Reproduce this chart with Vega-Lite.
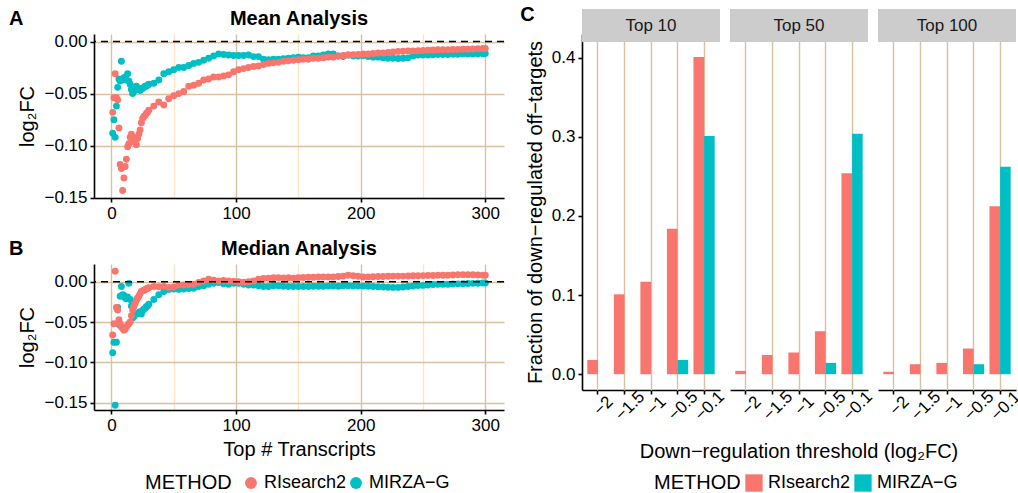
{
 "$schema": "https://vega.github.io/schema/vega-lite/v6.json",
 "padding": {"left": 8, "top": 5, "right": 0, "bottom": 0},
 "background": "white",
 "config": {
  "font": "Liberation Sans",
  "view": {"stroke": null},
  "axis": {"domainColor": "black", "domainWidth": 1.6, "tickColor": "black", "tickWidth": 1.6, "tickSize": 4, "labelFontSize": 17, "labelColor": "black", "titleFontSize": 20, "titleFontWeight": "normal", "titleColor": "black", "gridColor": "#D8C0A0", "gridWidth": 1.4, "labelPadding": 3, "titlePadding": 6},
  "title": {"fontSize": 20, "fontWeight": "bold", "color": "black"},
  "legend": {"titleFontSize": 20, "titleFontWeight": "normal", "titleColor": "black", "labelFontSize": 18, "labelColor": "black"}
 },
 "datasets": {
  "scatter": [
   {"n":1,"METHOD":"MIRZA−G","mean":-0.088,"median":-0.088},{"n":2,"METHOD":"MIRZA−G","mean":-0.075,"median":-0.075},{"n":3,"METHOD":"MIRZA−G","mean":-0.092,"median":-0.153},{"n":4,"METHOD":"MIRZA−G","mean":-0.062,"median":-0.075},{"n":5,"METHOD":"MIRZA−G","mean":-0.044,"median":-0.032},{"n":6,"METHOD":"MIRZA−G","mean":-0.036,"median":-0.053},{"n":7,"METHOD":"MIRZA−G","mean":-0.038,"median":-0.018},{"n":8,"METHOD":"MIRZA−G","mean":-0.019,"median":-0.006},{"n":9,"METHOD":"MIRZA−G","mean":-0.037,"median":-0.016},{"n":10,"METHOD":"MIRZA−G","mean":-0.035,"median":-0.017},
   {"n":11,"METHOD":"MIRZA−G","mean":-0.034,"median":-0.020},{"n":12,"METHOD":"MIRZA−G","mean":-0.037,"median":-0.021},{"n":13,"METHOD":"MIRZA−G","mean":-0.031,"median":-0.019},{"n":14,"METHOD":"MIRZA−G","mean":-0.038,"median":-0.002},{"n":15,"METHOD":"MIRZA−G","mean":-0.041,"median":-0.022},{"n":16,"METHOD":"MIRZA−G","mean":-0.046,"median":-0.030},{"n":17,"METHOD":"MIRZA−G","mean":-0.050,"median":-0.045},{"n":18,"METHOD":"MIRZA−G","mean":-0.048,"median":-0.043},{"n":19,"METHOD":"MIRZA−G","mean":-0.044,"median":-0.041},{"n":20,"METHOD":"MIRZA−G","mean":-0.043,"median":-0.040},
   {"n":21,"METHOD":"MIRZA−G","mean":-0.045,"median":-0.039},{"n":22,"METHOD":"MIRZA−G","mean":-0.046,"median":-0.038},{"n":23,"METHOD":"MIRZA−G","mean":-0.047,"median":-0.037},{"n":24,"METHOD":"MIRZA−G","mean":-0.045,"median":-0.040},{"n":25,"METHOD":"MIRZA−G","mean":-0.045,"median":-0.036},{"n":26,"METHOD":"MIRZA−G","mean":-0.044,"median":-0.034},{"n":27,"METHOD":"MIRZA−G","mean":-0.043,"median":-0.033},{"n":28,"METHOD":"MIRZA−G","mean":-0.043,"median":-0.031},{"n":29,"METHOD":"MIRZA−G","mean":-0.042,"median":-0.030},{"n":30,"METHOD":"MIRZA−G","mean":-0.041,"median":-0.028},
   {"n":34,"METHOD":"MIRZA−G","mean":-0.040,"median":-0.022},{"n":38,"METHOD":"MIRZA−G","mean":-0.037,"median":-0.016},{"n":42,"METHOD":"MIRZA−G","mean":-0.031,"median":-0.012},{"n":46,"METHOD":"MIRZA−G","mean":-0.029,"median":-0.0095},{"n":50,"METHOD":"MIRZA−G","mean":-0.027,"median":-0.009},{"n":54,"METHOD":"MIRZA−G","mean":-0.025,"median":-0.0095},{"n":58,"METHOD":"MIRZA−G","mean":-0.025,"median":-0.009},{"n":62,"METHOD":"MIRZA−G","mean":-0.023,"median":-0.0085},{"n":66,"METHOD":"MIRZA−G","mean":-0.021,"median":-0.008},{"n":70,"METHOD":"MIRZA−G","mean":-0.020,"median":-0.006},
   {"n":74,"METHOD":"MIRZA−G","mean":-0.018,"median":-0.005},{"n":78,"METHOD":"MIRZA−G","mean":-0.016,"median":-0.003},{"n":82,"METHOD":"MIRZA−G","mean":-0.014,"median":-0.002},{"n":86,"METHOD":"MIRZA−G","mean":-0.012,"median":-0.001},{"n":90,"METHOD":"MIRZA−G","mean":-0.0125,"median":-0.0025},{"n":94,"METHOD":"MIRZA−G","mean":-0.013,"median":-0.003},{"n":98,"METHOD":"MIRZA−G","mean":-0.0135,"median":-0.002},{"n":102,"METHOD":"MIRZA−G","mean":-0.0135,"median":-0.002},{"n":106,"METHOD":"MIRZA−G","mean":-0.0135,"median":-0.003},{"n":110,"METHOD":"MIRZA−G","mean":-0.013,"median":-0.004},
   {"n":114,"METHOD":"MIRZA−G","mean":-0.0145,"median":-0.004},{"n":118,"METHOD":"MIRZA−G","mean":-0.0145,"median":-0.005},{"n":122,"METHOD":"MIRZA−G","mean":-0.017,"median":-0.006},{"n":126,"METHOD":"MIRZA−G","mean":-0.0175,"median":-0.006},{"n":130,"METHOD":"MIRZA−G","mean":-0.017,"median":-0.005},{"n":134,"METHOD":"MIRZA−G","mean":-0.017,"median":-0.005},{"n":138,"METHOD":"MIRZA−G","mean":-0.0165,"median":-0.0055},{"n":142,"METHOD":"MIRZA−G","mean":-0.016,"median":-0.006},{"n":146,"METHOD":"MIRZA−G","mean":-0.0155,"median":-0.006},{"n":150,"METHOD":"MIRZA−G","mean":-0.015,"median":-0.006},
   {"n":154,"METHOD":"MIRZA−G","mean":-0.0155,"median":-0.006},{"n":158,"METHOD":"MIRZA−G","mean":-0.0155,"median":-0.0058},{"n":162,"METHOD":"MIRZA−G","mean":-0.014,"median":-0.0056},{"n":166,"METHOD":"MIRZA−G","mean":-0.014,"median":-0.0055},{"n":170,"METHOD":"MIRZA−G","mean":-0.013,"median":-0.0055},{"n":174,"METHOD":"MIRZA−G","mean":-0.012,"median":-0.0054},{"n":178,"METHOD":"MIRZA−G","mean":-0.012,"median":-0.0054},{"n":182,"METHOD":"MIRZA−G","mean":-0.014,"median":-0.0055},{"n":186,"METHOD":"MIRZA−G","mean":-0.0145,"median":-0.005},{"n":190,"METHOD":"MIRZA−G","mean":-0.013,"median":-0.005},
   {"n":194,"METHOD":"MIRZA−G","mean":-0.014,"median":-0.0052},{"n":198,"METHOD":"MIRZA−G","mean":-0.014,"median":-0.0054},{"n":202,"METHOD":"MIRZA−G","mean":-0.0135,"median":-0.0054},{"n":206,"METHOD":"MIRZA−G","mean":-0.0145,"median":-0.0056},{"n":210,"METHOD":"MIRZA−G","mean":-0.015,"median":-0.006},{"n":214,"METHOD":"MIRZA−G","mean":-0.015,"median":-0.0063},{"n":218,"METHOD":"MIRZA−G","mean":-0.0155,"median":-0.0066},{"n":222,"METHOD":"MIRZA−G","mean":-0.016,"median":-0.0068},{"n":226,"METHOD":"MIRZA−G","mean":-0.016,"median":-0.007},{"n":230,"METHOD":"MIRZA−G","mean":-0.0163,"median":-0.007},
   {"n":234,"METHOD":"MIRZA−G","mean":-0.016,"median":-0.0065},{"n":238,"METHOD":"MIRZA−G","mean":-0.0157,"median":-0.006},{"n":242,"METHOD":"MIRZA−G","mean":-0.014,"median":-0.0052},{"n":246,"METHOD":"MIRZA−G","mean":-0.013,"median":-0.0048},{"n":250,"METHOD":"MIRZA−G","mean":-0.013,"median":-0.0045},{"n":254,"METHOD":"MIRZA−G","mean":-0.013,"median":-0.004},{"n":258,"METHOD":"MIRZA−G","mean":-0.0128,"median":-0.0035},{"n":262,"METHOD":"MIRZA−G","mean":-0.0125,"median":-0.003},{"n":266,"METHOD":"MIRZA−G","mean":-0.0125,"median":-0.003},{"n":270,"METHOD":"MIRZA−G","mean":-0.0125,"median":-0.003},
   {"n":274,"METHOD":"MIRZA−G","mean":-0.0122,"median":-0.0028},{"n":278,"METHOD":"MIRZA−G","mean":-0.0122,"median":-0.0026},{"n":282,"METHOD":"MIRZA−G","mean":-0.012,"median":-0.0024},{"n":286,"METHOD":"MIRZA−G","mean":-0.012,"median":-0.0022},{"n":290,"METHOD":"MIRZA−G","mean":-0.012,"median":-0.002},{"n":294,"METHOD":"MIRZA−G","mean":-0.0118,"median":-0.0018},{"n":298,"METHOD":"MIRZA−G","mean":-0.0118,"median":-0.0016},{"n":300,"METHOD":"MIRZA−G","mean":-0.0115,"median":-0.0015},
   {"n":1,"METHOD":"RIsearch2","mean":-0.068,"median":-0.066},{"n":2,"METHOD":"RIsearch2","mean":-0.054,"median":-0.052},{"n":3,"METHOD":"RIsearch2","mean":-0.031,"median":0.013},{"n":4,"METHOD":"RIsearch2","mean":-0.054,"median":-0.032},{"n":5,"METHOD":"RIsearch2","mean":-0.056,"median":-0.035},{"n":6,"METHOD":"RIsearch2","mean":-0.083,"median":-0.047},{"n":7,"METHOD":"RIsearch2","mean":-0.118,"median":-0.052},{"n":8,"METHOD":"RIsearch2","mean":-0.122,"median":-0.056},{"n":9,"METHOD":"RIsearch2","mean":-0.143,"median":-0.058},{"n":10,"METHOD":"RIsearch2","mean":-0.131,"median":-0.060},
   {"n":11,"METHOD":"RIsearch2","mean":-0.120,"median":-0.059},{"n":12,"METHOD":"RIsearch2","mean":-0.113,"median":-0.056},{"n":13,"METHOD":"RIsearch2","mean":-0.101,"median":-0.054},{"n":14,"METHOD":"RIsearch2","mean":-0.098,"median":-0.052},{"n":15,"METHOD":"RIsearch2","mean":-0.092,"median":-0.050},{"n":16,"METHOD":"RIsearch2","mean":-0.089,"median":-0.042},{"n":17,"METHOD":"RIsearch2","mean":-0.096,"median":-0.035},{"n":18,"METHOD":"RIsearch2","mean":-0.092,"median":-0.031},{"n":19,"METHOD":"RIsearch2","mean":-0.097,"median":-0.027},{"n":20,"METHOD":"RIsearch2","mean":-0.099,"median":-0.023},
   {"n":21,"METHOD":"RIsearch2","mean":-0.093,"median":-0.020},{"n":22,"METHOD":"RIsearch2","mean":-0.089,"median":-0.018},{"n":23,"METHOD":"RIsearch2","mean":-0.085,"median":-0.015},{"n":24,"METHOD":"RIsearch2","mean":-0.078,"median":-0.012},{"n":25,"METHOD":"RIsearch2","mean":-0.074,"median":-0.011},{"n":26,"METHOD":"RIsearch2","mean":-0.072,"median":-0.011},{"n":27,"METHOD":"RIsearch2","mean":-0.071,"median":-0.010},{"n":28,"METHOD":"RIsearch2","mean":-0.069,"median":-0.009},{"n":29,"METHOD":"RIsearch2","mean":-0.068,"median":-0.008},{"n":30,"METHOD":"RIsearch2","mean":-0.066,"median":-0.0075},
   {"n":34,"METHOD":"RIsearch2","mean":-0.062,"median":-0.006},{"n":38,"METHOD":"RIsearch2","mean":-0.058,"median":-0.0062},{"n":42,"METHOD":"RIsearch2","mean":-0.061,"median":-0.006},{"n":46,"METHOD":"RIsearch2","mean":-0.055,"median":-0.007},{"n":50,"METHOD":"RIsearch2","mean":-0.052,"median":-0.0065},{"n":54,"METHOD":"RIsearch2","mean":-0.050,"median":-0.004},{"n":58,"METHOD":"RIsearch2","mean":-0.048,"median":-0.004},{"n":62,"METHOD":"RIsearch2","mean":-0.043,"median":-0.0035},{"n":66,"METHOD":"RIsearch2","mean":-0.042,"median":-0.003},{"n":70,"METHOD":"RIsearch2","mean":-0.040,"median":-0.001},
   {"n":74,"METHOD":"RIsearch2","mean":-0.037,"median":0.001},{"n":78,"METHOD":"RIsearch2","mean":-0.036,"median":0.003},{"n":82,"METHOD":"RIsearch2","mean":-0.034,"median":0.002},{"n":86,"METHOD":"RIsearch2","mean":-0.034,"median":0.001},{"n":90,"METHOD":"RIsearch2","mean":-0.033,"median":0.0015},{"n":94,"METHOD":"RIsearch2","mean":-0.032,"median":0.001},{"n":98,"METHOD":"RIsearch2","mean":-0.029,"median":0.0005},{"n":102,"METHOD":"RIsearch2","mean":-0.027,"median":0.0},{"n":106,"METHOD":"RIsearch2","mean":-0.026,"median":-0.0005},{"n":110,"METHOD":"RIsearch2","mean":-0.025,"median":0.0},
   {"n":114,"METHOD":"RIsearch2","mean":-0.024,"median":0.001},{"n":118,"METHOD":"RIsearch2","mean":-0.0235,"median":0.003},{"n":122,"METHOD":"RIsearch2","mean":-0.022,"median":0.004},{"n":126,"METHOD":"RIsearch2","mean":-0.021,"median":0.0045},{"n":130,"METHOD":"RIsearch2","mean":-0.0205,"median":0.005},{"n":134,"METHOD":"RIsearch2","mean":-0.020,"median":0.005},{"n":138,"METHOD":"RIsearch2","mean":-0.019,"median":0.0048},{"n":142,"METHOD":"RIsearch2","mean":-0.0185,"median":0.005},{"n":146,"METHOD":"RIsearch2","mean":-0.018,"median":0.0045},{"n":150,"METHOD":"RIsearch2","mean":-0.0175,"median":0.005},
   {"n":154,"METHOD":"RIsearch2","mean":-0.017,"median":0.0052},{"n":158,"METHOD":"RIsearch2","mean":-0.017,"median":0.0055},{"n":162,"METHOD":"RIsearch2","mean":-0.016,"median":0.0055},{"n":166,"METHOD":"RIsearch2","mean":-0.016,"median":0.0058},{"n":170,"METHOD":"RIsearch2","mean":-0.0155,"median":0.006},{"n":174,"METHOD":"RIsearch2","mean":-0.015,"median":0.006},{"n":178,"METHOD":"RIsearch2","mean":-0.015,"median":0.006},{"n":182,"METHOD":"RIsearch2","mean":-0.014,"median":0.0065},{"n":186,"METHOD":"RIsearch2","mean":-0.0135,"median":0.007},{"n":190,"METHOD":"RIsearch2","mean":-0.013,"median":0.008},
   {"n":194,"METHOD":"RIsearch2","mean":-0.0128,"median":0.0075},{"n":198,"METHOD":"RIsearch2","mean":-0.0125,"median":0.0068},{"n":202,"METHOD":"RIsearch2","mean":-0.012,"median":0.006},{"n":206,"METHOD":"RIsearch2","mean":-0.012,"median":0.006},{"n":210,"METHOD":"RIsearch2","mean":-0.0115,"median":0.0062},{"n":214,"METHOD":"RIsearch2","mean":-0.011,"median":0.0064},{"n":218,"METHOD":"RIsearch2","mean":-0.011,"median":0.0066},{"n":222,"METHOD":"RIsearch2","mean":-0.0105,"median":0.0068},{"n":226,"METHOD":"RIsearch2","mean":-0.010,"median":0.007},{"n":230,"METHOD":"RIsearch2","mean":-0.0095,"median":0.007},
   {"n":234,"METHOD":"RIsearch2","mean":-0.0093,"median":0.007},{"n":238,"METHOD":"RIsearch2","mean":-0.009,"median":0.0072},{"n":242,"METHOD":"RIsearch2","mean":-0.009,"median":0.0074},{"n":246,"METHOD":"RIsearch2","mean":-0.0088,"median":0.0075},{"n":250,"METHOD":"RIsearch2","mean":-0.0086,"median":0.0076},{"n":254,"METHOD":"RIsearch2","mean":-0.0084,"median":0.0077},{"n":258,"METHOD":"RIsearch2","mean":-0.0082,"median":0.0078},{"n":262,"METHOD":"RIsearch2","mean":-0.008,"median":0.008},{"n":266,"METHOD":"RIsearch2","mean":-0.0079,"median":0.008},{"n":270,"METHOD":"RIsearch2","mean":-0.0078,"median":0.0082},
   {"n":274,"METHOD":"RIsearch2","mean":-0.0077,"median":0.0084},{"n":278,"METHOD":"RIsearch2","mean":-0.0076,"median":0.0086},{"n":282,"METHOD":"RIsearch2","mean":-0.0075,"median":0.0088},{"n":286,"METHOD":"RIsearch2","mean":-0.0074,"median":0.0088},{"n":290,"METHOD":"RIsearch2","mean":-0.0072,"median":0.0086},{"n":294,"METHOD":"RIsearch2","mean":-0.007,"median":0.0084},{"n":298,"METHOD":"RIsearch2","mean":-0.0068,"median":0.0082},{"n":300,"METHOD":"RIsearch2","mean":-0.0068,"median":0.008}
  ],
  "bars": [
   {"top":"Top 10","thr":"−2","METHOD":"RIsearch2","frac":0.018},{"top":"Top 10","thr":"−2","METHOD":"MIRZA−G","frac":0},
   {"top":"Top 10","thr":"−1.5","METHOD":"RIsearch2","frac":0.101},{"top":"Top 10","thr":"−1.5","METHOD":"MIRZA−G","frac":0},
   {"top":"Top 10","thr":"−1","METHOD":"RIsearch2","frac":0.117},{"top":"Top 10","thr":"−1","METHOD":"MIRZA−G","frac":0},
   {"top":"Top 10","thr":"−0.5","METHOD":"RIsearch2","frac":0.184},{"top":"Top 10","thr":"−0.5","METHOD":"MIRZA−G","frac":0.018},
   {"top":"Top 10","thr":"−0.1","METHOD":"RIsearch2","frac":0.401},{"top":"Top 10","thr":"−0.1","METHOD":"MIRZA−G","frac":0.301},
   {"top":"Top 50","thr":"−2","METHOD":"RIsearch2","frac":0.0042},{"top":"Top 50","thr":"−2","METHOD":"MIRZA−G","frac":0},
   {"top":"Top 50","thr":"−1.5","METHOD":"RIsearch2","frac":0.0244},{"top":"Top 50","thr":"−1.5","METHOD":"MIRZA−G","frac":0},
   {"top":"Top 50","thr":"−1","METHOD":"RIsearch2","frac":0.0274},{"top":"Top 50","thr":"−1","METHOD":"MIRZA−G","frac":0},
   {"top":"Top 50","thr":"−0.5","METHOD":"RIsearch2","frac":0.0543},{"top":"Top 50","thr":"−0.5","METHOD":"MIRZA−G","frac":0.0143},
   {"top":"Top 50","thr":"−0.1","METHOD":"RIsearch2","frac":0.254},{"top":"Top 50","thr":"−0.1","METHOD":"MIRZA−G","frac":0.304},
   {"top":"Top 100","thr":"−2","METHOD":"RIsearch2","frac":0.003},{"top":"Top 100","thr":"−2","METHOD":"MIRZA−G","frac":0},
   {"top":"Top 100","thr":"−1.5","METHOD":"RIsearch2","frac":0.0126},{"top":"Top 100","thr":"−1.5","METHOD":"MIRZA−G","frac":0},
   {"top":"Top 100","thr":"−1","METHOD":"RIsearch2","frac":0.0143},{"top":"Top 100","thr":"−1","METHOD":"MIRZA−G","frac":0},
   {"top":"Top 100","thr":"−0.5","METHOD":"RIsearch2","frac":0.0324},{"top":"Top 100","thr":"−0.5","METHOD":"MIRZA−G","frac":0.0126},
   {"top":"Top 100","thr":"−0.1","METHOD":"RIsearch2","frac":0.2122},{"top":"Top 100","thr":"−0.1","METHOD":"MIRZA−G","frac":0.2623}
  ]
 },
 "resolve": {"legend": {"color": "independent"}},
 "spacing": 15,
 "hconcat": [
  {
   "spacing": 18,
   "vconcat": [
    {
     "title": {"text": "A", "anchor": "start", "frame": "bounds", "offset": -20, "dx": -9, "fontSize": 20, "fontWeight": "bold"},
     "vconcat": [
      {
       "width": 410, "height": 164,
       "title": {"text": "Mean Analysis", "offset": 4},
       "layer": [
        {
         "data": {"name": "scatter"},
         "mark": {"type": "circle", "size": 48, "opacity": 1},
         "encoding": {
          "x": {"field": "n", "type": "quantitative", "scale": {"domain": [-14, 315], "nice": false, "zero": false},
                "axis": {"title": null, "values": [0,50,100,150,200,250,300], "labelExpr": "datum.value % 100 == 0 ? datum.label : ''",
                         "gridColor": {"condition": {"test": "datum.value % 100 != 0", "value": "#FFE4C4"}, "value": "#D8C0A0"},
                         "tickColor": {"condition": {"test": "datum.value % 100 != 0", "value": "transparent"}, "value": "black"}}},
          "y": {"field": "mean", "type": "quantitative", "scale": {"domain": [-0.1502, 0.0072], "nice": false, "zero": false},
                "axis": {"title": "log₂FC", "values": [-0.15, -0.1, -0.05, 0], "format": ".2f"}},
          "color": {"field": "METHOD", "type": "nominal", "scale": {"domain": ["RIsearch2", "MIRZA−G"], "range": ["#F8766D", "#00BFC4"]},
                    "legend": {"orient": "none", "legendX": 51, "legendY": 440, "direction": "horizontal", "titleOrient": "left", "title": "METHOD", "symbolType": "circle", "symbolSize": 140, "symbolStrokeWidth": 0, "columnPadding": 0, "labelOffset": 4, "titlePadding": 10}}
         }
        },
        {
         "data": {"values": [{"z": 0}]},
         "mark": {"type": "rule", "strokeDash": [7, 5], "color": "black", "strokeWidth": 1.4},
         "encoding": {"y": {"field": "z", "type": "quantitative"}}
        }
       ]
      }
     ]
    },
    {
     "title": {"text": "B", "anchor": "start", "frame": "bounds", "offset": -20, "dx": -9, "fontSize": 20, "fontWeight": "bold"},
     "vconcat": [
      {
       "width": 410, "height": 146,
       "title": {"text": "Median Analysis", "offset": 5},
       "layer": [
        {
         "data": {"name": "scatter"},
         "mark": {"type": "circle", "size": 48, "opacity": 1},
         "encoding": {
          "x": {"field": "n", "type": "quantitative", "scale": {"domain": [-14, 315], "nice": false, "zero": false},
                "axis": {"title": "Top # Transcripts", "values": [0,50,100,150,200,250,300], "labelExpr": "datum.value % 100 == 0 ? datum.label : ''",
                         "gridColor": {"condition": {"test": "datum.value % 100 != 0", "value": "#FFE4C4"}, "value": "#D8C0A0"},
                         "tickColor": {"condition": {"test": "datum.value % 100 != 0", "value": "transparent"}, "value": "black"}}},
          "y": {"field": "median", "type": "quantitative", "scale": {"domain": [-0.159, 0.022], "nice": false, "zero": false},
                "axis": {"title": "log₂FC", "values": [-0.15, -0.1, -0.05, 0], "format": ".2f"}},
          "color": {"field": "METHOD", "type": "nominal", "scale": {"domain": ["RIsearch2", "MIRZA−G"], "range": ["#F8766D", "#00BFC4"]},
                    "legend": {"orient": "none", "legendX": 51, "legendY": 440, "direction": "horizontal", "titleOrient": "left", "title": "METHOD", "symbolType": "circle", "symbolSize": 140, "symbolStrokeWidth": 0, "columnPadding": 0, "labelOffset": 4, "titlePadding": 10}}
         }
        },
        {
         "data": {"values": [{"z": 0}]},
         "mark": {"type": "rule", "strokeDash": [7, 5], "color": "black", "strokeWidth": 1.4},
         "encoding": {"y": {"field": "z", "type": "quantitative"}}
        }
       ]
      }
     ]
    }
   ]
  },
  {
   "data": {"name": "bars"},
   "title": {"text": "C", "anchor": "start", "frame": "bounds", "offset": -16, "dx": -5, "fontSize": 20, "fontWeight": "bold"},
   "spacing": 10,
   "facet": {"column": {"field": "top", "type": "nominal", "sort": ["Top 10", "Top 50", "Top 100"],
                        "header": {"title": "Down−regulation threshold (log₂FC)", "titleOrient": "bottom", "titleFontSize": 20, "titleFontWeight": "normal", "titleColor": "black", "titlePadding": 8, "labels": false}}},
   "spec": {
    "width": 138, "height": 356,
    "layer": [
     {
      "transform": [{"filter": "datum.thr == '−2' && datum.METHOD == 'RIsearch2'"}],
      "mark": {"type": "rect", "color": "#CCCCCC"},
      "encoding": {"y": {"datum": 0.42}, "y2": {"datum": 0.4617}}
     },
     {
      "transform": [{"filter": "datum.thr == '−2' && datum.METHOD == 'RIsearch2'"}],
      "mark": {"type": "text", "fontSize": 17, "color": "#1A1A1A", "baseline": "middle", "align": "center"},
      "encoding": {"y": {"datum": 0.4408}, "text": {"field": "top"}}
     },
     {
      "mark": {"type": "bar"},
      "encoding": {
       "x": {"field": "thr", "type": "nominal", "sort": ["−2", "−1.5", "−1", "−0.5", "−0.1"], "scale": {"paddingInner": 0.2, "paddingOuter": 0.2},
             "axis": {"title": null, "labelAngle": -45, "labelAlign": "center", "labelBaseline": "top", "labelPadding": 6, "bandPosition": 0.5, "grid": true, "gridColor": "#D8C0A0"}},
       "xOffset": {"field": "METHOD", "type": "nominal", "sort": ["RIsearch2", "MIRZA−G"], "scale": {"paddingInner": 0, "paddingOuter": 0}},
       "y": {"field": "frac", "type": "quantitative", "scale": {"domain": [-0.02, 0.4301], "nice": false, "zero": false},
             "axis": {"title": "Fraction of down−regulated off−targets", "values": [0, 0.05, 0.1, 0.15, 0.2, 0.25, 0.3, 0.35, 0.4],
                      "labelExpr": "round(datum.value*100) % 10 == 0 ? format(datum.value, '.1f') : ''",
                      "gridColor": {"condition": {"test": "round(datum.value*100) % 10 != 0", "value": "#FFE4C4"}, "value": "#D8C0A0"},
                      "tickColor": {"condition": {"test": "round(datum.value*100) % 10 != 0", "value": "transparent"}, "value": "black"}}},
       "color": {"field": "METHOD", "type": "nominal", "scale": {"domain": ["RIsearch2", "MIRZA−G"], "range": ["#F8766D", "#00BFC4"]},
                 "legend": {"orient": "none", "legendX": 72, "legendY": 440, "direction": "horizontal", "titleOrient": "left", "title": "METHOD", "symbolType": "square", "symbolSize": 300, "symbolStrokeWidth": 0, "columnPadding": 3, "labelOffset": 5, "titlePadding": 4}}
      }
     }
    ]
   }
  }
 ]
}
